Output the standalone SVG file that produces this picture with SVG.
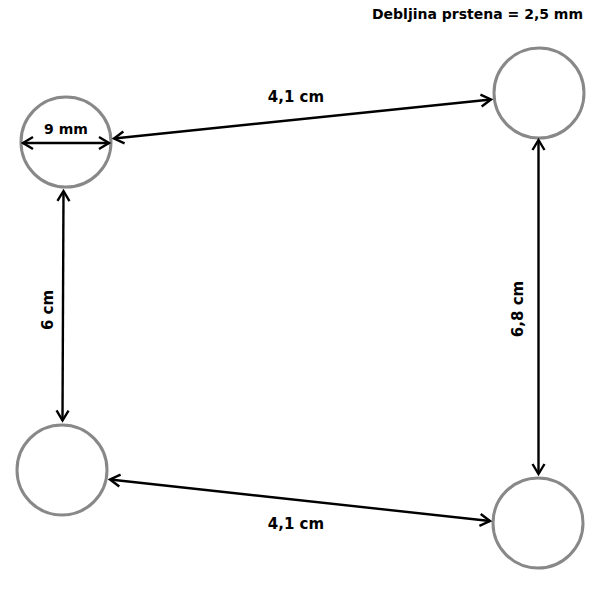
<svg xmlns="http://www.w3.org/2000/svg" width="600" height="600" viewBox="0 0 600 600">
<defs>
<marker id="ah" markerWidth="16" markerHeight="16" refX="13" refY="8" orient="auto-start-reverse" markerUnits="userSpaceOnUse">
<path d="M3,2 L13,8 L3,14" fill="none" stroke="#000" stroke-width="2.4"/>
</marker>
</defs>
<style>
.ring{fill:#fff;stroke:#888;stroke-width:3}
.conn{stroke:#000;stroke-width:2.4;fill:none;marker-start:url(#ah);marker-end:url(#ah)}
.lbl{font-family:"DejaVu Sans",Verdana,sans-serif;font-weight:bold;font-size:15px;fill:#000;text-anchor:middle}
</style>
<rect width="600" height="600" fill="#fff"/>
<g id="ring-tl"><circle class="ring" cx="66" cy="142" r="45"/></g>
<g id="ring-tr"><circle class="ring" cx="539" cy="93" r="45"/></g>
<g id="ring-bl"><circle class="ring" cx="62" cy="470" r="45"/></g>
<g id="ring-br"><circle class="ring" cx="538" cy="523" r="45"/></g>
<g id="connectors">
<line class="conn" x1="114" y1="138.5" x2="491" y2="99.5"/>
<line class="conn" x1="63.5" y1="191" x2="62.5" y2="420.5"/>
<line class="conn" x1="538.5" y1="140" x2="538.5" y2="474"/>
<line class="conn" x1="110" y1="479.5" x2="490" y2="521"/>
<line class="conn" x1="23" y1="143" x2="109" y2="143"/>
</g>
<g id="labels">
<text class="lbl" x="66" y="134" style="font-size:14px">9 mm</text>
<text class="lbl" x="296" y="102">4,1 cm</text>
<text class="lbl" x="296" y="529">4,1 cm</text>
<text class="lbl" transform="translate(53,310) rotate(-90)">6 cm</text>
<text class="lbl" transform="translate(523,309) rotate(-90)">6,8 cm</text>
<text class="lbl" x="583" y="19" style="font-size:14px;text-anchor:end">Debljina prstena = 2,5 mm</text>
</g>
</svg>
